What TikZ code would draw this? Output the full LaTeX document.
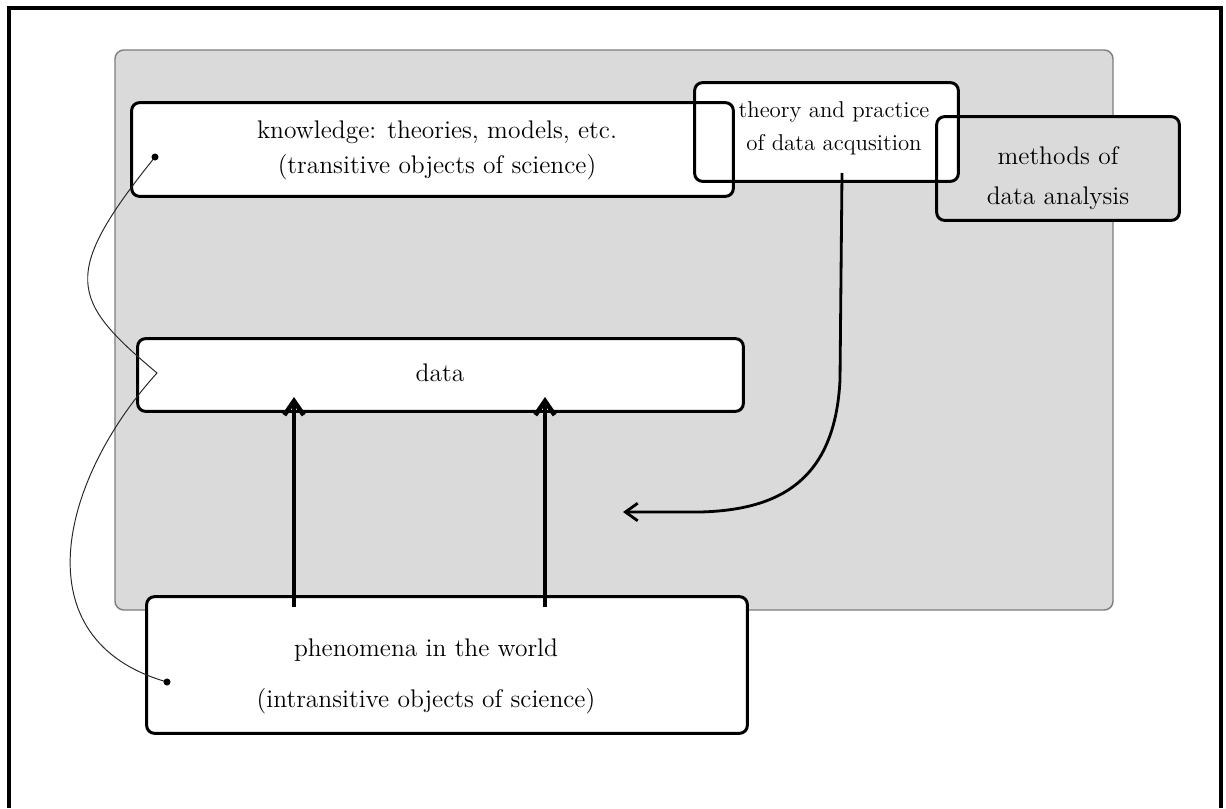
\documentclass[tikz,border=0pt]{standalone}
\usepackage{tikz}
\usetikzlibrary{arrows.meta, calc, fit}
\definecolor{panelGray}{RGB}{218,218,218}
\definecolor{panelEdge}{RGB}{125,125,125}
\tikzset{
  frame/.style={line width=2.3pt, black},
  panel/.style={draw=panelEdge, fill=panelGray, line width=0.8pt, rounded corners=5pt, inner sep=0pt},
  boxfill/.style={fill=white, rounded corners=4.5pt, inner sep=0pt},
  boxline/.style={draw=black, line width=1.7pt, rounded corners=4.5pt},
  lbl/.style={align=center, inner sep=0pt, font=\fontsize{14.5}{20}\selectfont},
  feed/.style={-{Straight Barb[length=8pt,width=11pt]}, line width=2.6pt},
  acqarrow/.style={-{Straight Barb[length=7pt,width=10pt]}, line width=1.6pt},
  link/.style={line width=0.55pt, black!85},
}

\begin{document}
\begin{tikzpicture}[x=0.02cm, y=-0.02cm]
  \useasboundingbox (0,0) rectangle (1226,808);
  \draw[frame] (9,808) -- (9,8) -- (1221,8) -- (1221,808);

  % gray field and the boxes (fills first, outlines after)
  \node[panel, fit={(115,50) (1113,610)}] (panel) {};
  \node[boxfill, fill=panelGray, fit={(937,117) (1179,220)}] (methods) {};
  \node[boxfill, fit={(695,83) (958,181)}] (theory) {};
  \node[boxfill, fit={(132,103) (733,196)}] (know) {};
  \node[boxfill, fit={(138,339) (743,411)}] (data) {};
  \node[boxfill, fit={(147,597) (747,733)}] (phen) {};
  \foreach \b in {methods, theory, know, data, phen}
    \draw[boxline] (\b.north west) rectangle (\b.south east);

  \node[lbl] (knowtext) at (437,150) {knowledge: theories, models, etc.\\(transitive objects of science)};
  \node[lbl, font=\fontsize{13}{19}\selectfont] (theorytext) at (834,128) {theory and practice\\of data acqusition};
  \node[lbl] (methodstext) at (1058,178) {methods of\\[3pt]data analysis};
  \node[lbl] (datatext) at (440,373) {data};
  \node[lbl] (phentext) at (426,676) {phenomena in the world\\[9pt](intransitive objects of science)};

  % phenomena -> data
  \coordinate (up1s) at (294,607);
  \coordinate (up1e) at (294,397);
  \coordinate (up2s) at (545,607);
  \coordinate (up2e) at (545,397);
  \draw[feed] (up1s) -- (up1e);
  \draw[feed] (up2s) -- (up2e);

  % acquisition arrow
  \coordinate (acq) at (842,173);
  \coordinate (gap) at (623,512);
  \draw[acqarrow] (acq) -- (840,380) .. controls (835,480) and (780,510) .. (700,512) -- (gap);

  % thin link through the three levels
  \coordinate (kdot) at (155,157);
  \coordinate (kink) at (157,373);
  \coordinate (pdot) at (167,682);
  \draw[link] (kdot) .. controls (60,275) and (70,300) .. (kink) .. controls (60,480) and (20,640) .. (pdot);
  \fill (kdot) circle (2pt);
  \fill (pdot) circle (2pt);
\end{tikzpicture}
\end{document}
